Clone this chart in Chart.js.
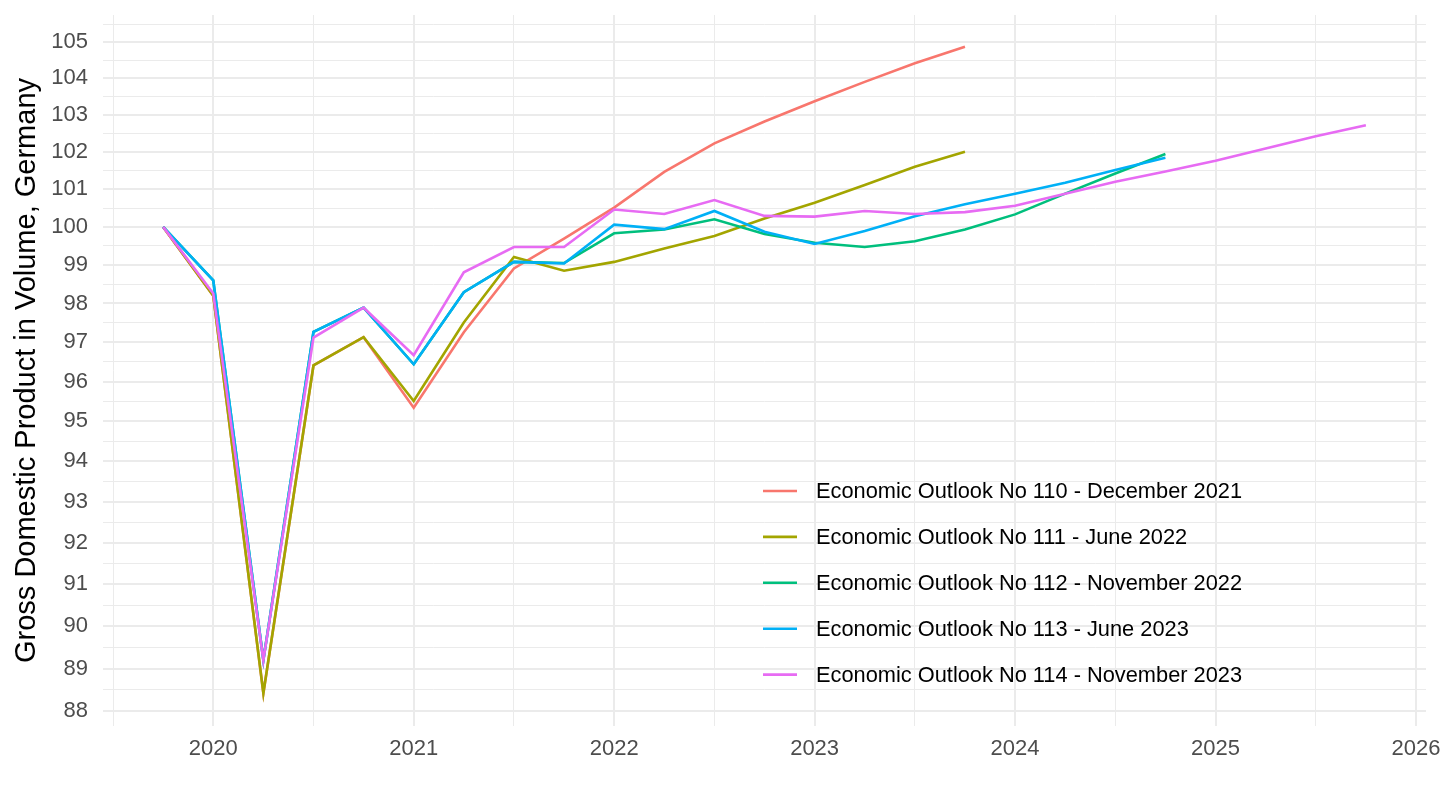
<!DOCTYPE html>
<html>
<head>
<meta charset="utf-8">
<script src="https://cdn.jsdelivr.net/npm/chart.js@4.4.1/dist/chart.umd.min.js"></script>
<style>
html,body{margin:0;padding:0;background:#fff;}
#wrap{width:1440px;height:810px;}
</style>
</head>
<body>
<div id="wrap"><canvas id="c" width="1440" height="810"></canvas></div>
<script>
// Quarters as decimal years (2019 Q4 ... 2025 Q4)
const quarters = [2019.75, 2020.0, 2020.25, 2020.5, 2020.75, 2021.0, 2021.25, 2021.5, 2021.75,
  2022.0, 2022.25, 2022.5, 2022.75, 2023.0, 2023.25, 2023.5, 2023.75,
  2024.0, 2024.25, 2024.5, 2024.75, 2025.0, 2025.25, 2025.5, 2025.75];

const seriesNames = [
  "Economic Outlook No 110 - December 2021",
  "Economic Outlook No 111 - June 2022",
  "Economic Outlook No 112 - November 2022",
  "Economic Outlook No 113 - June 2023",
  "Economic Outlook No 114 - November 2023"
];

const eo110 = [100, 98.2, 88.42, 96.41, 97.13, 95.34, 97.26, 98.91, 99.69, 100.51, 101.46, 102.23, 102.82, 103.37, 103.9, 104.41, 104.87];
const eo111 = [100, 98.2, 88.42, 96.41, 97.13, 95.51, 97.51, 99.21, 98.85, 99.08, 99.43, 99.76, 100.22, 100.64, 101.11, 101.6, 102.0];
const eo112 = [100, 98.6, 89.2, 97.27, 97.89, 96.44, 98.29, 99.08, 99.05, 99.83, 99.93, 100.2, 99.81, 99.58, 99.47, 99.62, 99.93, 100.33, 100.88, 101.42, 101.94];
const eo113 = [100, 98.6, 89.2, 97.27, 97.89, 96.44, 98.29, 99.08, 99.04, 100.06, 99.94, 100.42, 99.87, 99.55, 99.89, 100.28, 100.6, 100.88, 101.17, 101.51, 101.84];
const eo114 = [100, 98.26, 89.19, 97.12, 97.89, 96.67, 98.81, 99.47, 99.47, 100.46, 100.34, 100.71, 100.29, 100.27, 100.42, 100.34, 100.39, 100.56, 100.88, 101.2, 101.47, 101.76, 102.09, 102.42, 102.72];

const yTickValues = [88, 89, 90, 91, 92, 93, 94, 95, 96, 97, 98, 99, 100, 101, 102, 103, 104, 105];
const xTickYears = [2020, 2021, 2022, 2023, 2024, 2025, 2026];

const colors = ["#F8766D", "#A3A500", "#00BF7D", "#00B0F6", "#E76BF3"];
const allSeries = [eo110, eo111, eo112, eo113, eo114];

const Y_MIN = 87.66, Y_MAX = 105.75;
const X_MIN = 2019.45, X_MAX = 2026.05;

const datasets = allSeries.map((vals, k) => ({
  label: seriesNames[k],
  data: vals.map((v, i) => ({x: quarters[i], y: v})),
  borderColor: colors[k],
  backgroundColor: colors[k],
  borderWidth: 2.6,
  pointRadius: 0,
  tension: 0,
  fill: false,
  order: allSeries.length - k
}));

const FONT = "'Liberation Sans', Arial, Helvetica, sans-serif";

const legendPlugin = {
  id: 'insideLegend',
  afterDraw(chart) {
    const ctx = chart.ctx;
    ctx.save();
    const x0 = 763, x1 = 797, tx = 816;
    let y = 491;
    chart.data.datasets.forEach(ds => {
      ctx.strokeStyle = ds.borderColor;
      ctx.lineWidth = 2.6;
      ctx.beginPath();
      ctx.moveTo(x0, y);
      ctx.lineTo(x1, y);
      ctx.stroke();
      ctx.fillStyle = '#000';
      ctx.font = "21.8px " + FONT;
      ctx.textBaseline = 'middle';
      ctx.textAlign = 'left';
      ctx.fillText(ds.label, tx, y + 1);
      y += 45.9;
    });
    ctx.restore();
  }
};

new Chart(document.getElementById('c'), {
  type: 'line',
  data: { datasets },
  options: {
    responsive: false,
    animation: false,
    devicePixelRatio: 1,
    layout: { padding: { left: 0, top: 15, right: 14, bottom: 0 } },
    plugins: { legend: { display: false }, tooltip: { enabled: false } },
    scales: {
      x: {
        type: 'linear',
        min: X_MIN, max: X_MAX,
        afterBuildTicks(scale) {
          const t = [];
          for (let i = 0; i < xTickYears.length; i++) {
            t.push({value: xTickYears[i] - 0.5});
            t.push({value: xTickYears[i]});
          }
          scale.ticks = t;
        },
        afterFit(scale) { scale.height = 84; scale.paddingLeft = 0; scale.paddingRight = 0; },
        border: { display: false },
        grid: {
          color: '#EBEBEB',
          lineWidth: ctx => (ctx.tick && Number.isInteger(ctx.tick.value)) ? 2 : 1,
          drawTicks: false
        },
        ticks: {
          autoSkip: false, maxRotation: 0, padding: 10,
          color: '#4D4D4D',
          font: { size: 22, family: FONT },
          callback: v => Number.isInteger(v) ? String(v) : ''
        }
      },
      y: {
        type: 'logarithmic',
        min: Y_MIN, max: Y_MAX,
        afterBuildTicks(scale) {
          const t = [];
          for (let i = 0; i < yTickValues.length; i++) {
            t.push({value: yTickValues[i], major: true});
            const next = i < yTickValues.length - 1 ? yTickValues[i + 1] : yTickValues[i] + 1;
            const mid = Math.sqrt(yTickValues[i] * next);
            if (mid < Y_MAX) t.push({value: mid, major: false});
          }
          scale.ticks = t;
        },
        afterFit(scale) { scale.width = 103; scale.paddingTop = 0; scale.paddingBottom = 0; },
        border: { display: false },
        grid: {
          color: '#EBEBEB',
          lineWidth: ctx => (ctx.tick && Number.isInteger(ctx.tick.value)) ? 2 : 1,
          drawTicks: false
        },
        ticks: {
          autoSkip: false, padding: 15,
          color: '#4D4D4D',
          font: { size: 22, family: FONT },
          callback: v => Number.isInteger(v) ? String(v) : ''
        },
        title: {
          display: true,
          text: 'Gross Domestic Product in Volume, Germany',
          color: '#000',
          font: { size: 29, family: FONT },
          padding: { top: 10, bottom: 0 }
        }
      }
    }
  },
  plugins: [legendPlugin]
});
</script>
</body>
</html>
